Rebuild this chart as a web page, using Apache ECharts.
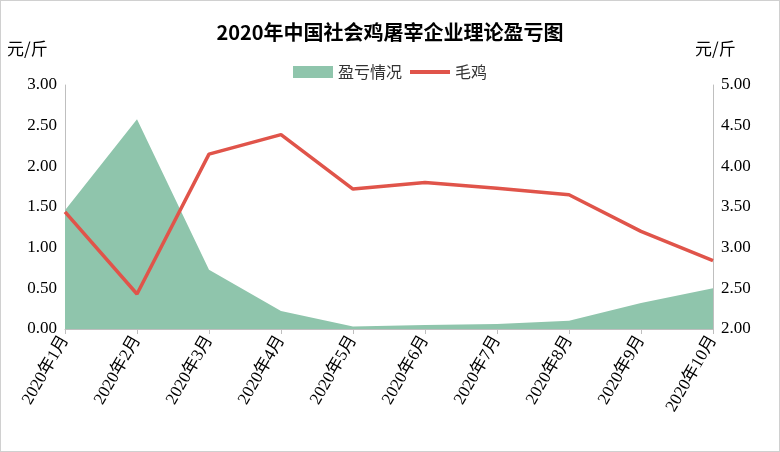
<!DOCTYPE html>
<html><head><meta charset="utf-8">
<script src="https://cdn.jsdelivr.net/npm/echarts@6/dist/echarts.min.js"></script>
<style>html,body{margin:0;padding:0;background:#fff}#c{width:780px;height:452px;box-sizing:border-box;border:1px solid #d0d0d0}</style>
</head><body><div id="c"></div>
<script>
const categories = ['2020年1月','2020年2月','2020年3月','2020年4月','2020年5月','2020年6月','2020年7月','2020年8月','2020年9月','2020年10月'];
const profit = [1.46, 2.58, 0.73, 0.22, 0.03, 0.05, 0.06, 0.10, 0.32, 0.50];
const broiler = [3.44, 2.43, 4.15, 4.39, 3.72, 3.80, 3.73, 3.65, 3.20, 2.84];
const chart = echarts.init(document.getElementById('c'));
const font = 'Liberation Serif, Noto Sans CJK SC';
chart.setOption({
  animation:false,
  title:{text:'2020年中国社会鸡屠宰企业理论盈亏图',left:'center',top:16,textStyle:{fontFamily:'Noto Sans CJK SC',fontSize:20,fontWeight:'bold',color:'#000'}},
  legend:{top:58,left:'center',itemWidth:40,itemHeight:12,textStyle:{fontSize:16,fontFamily:'Noto Sans CJK SC',color:'#333'},
    data:[{name:'盈亏情况',icon:'rect'},{name:'毛鸡',icon:'path://M0,0H40V4H0Z'}]},
  grid:{left:64,right:66,top:84,bottom:122},
  xAxis:{type:'category',data:categories,boundaryGap:false,
    axisLine:{lineStyle:{color:'#bfbfbf'}},axisTick:{show:true,lineStyle:{color:'#bfbfbf'}},
    axisLabel:{rotate:60,fontSize:17,fontFamily:font,color:'#000',interval:0}},
  yAxis:[
    {type:'value',min:0,max:3,interval:0.5,name:'元/斤',nameLocation:'end',nameGap:28,nameTextStyle:{fontSize:17,color:'#000',fontFamily:'Noto Sans CJK SC',align:'left',padding:[0,0,0,-58]},
     axisLine:{show:true,lineStyle:{color:'#bfbfbf'}},splitLine:{show:false},
     axisLabel:{formatter:v=>v.toFixed(2),fontSize:17,fontFamily:font,color:'#000'}},
    {type:'value',min:2,max:5,interval:0.5,name:'元/斤',nameLocation:'end',nameGap:28,nameTextStyle:{fontSize:17,color:'#000',fontFamily:'Noto Sans CJK SC',align:'left',padding:[0,0,0,-18]},
     axisLine:{show:true,lineStyle:{color:'#bfbfbf'}},splitLine:{show:false},
     axisLabel:{formatter:v=>v.toFixed(2),fontSize:17,fontFamily:font,color:'#000'}}
  ],
  series:[
    {name:'盈亏情况',type:'line',data:profit,symbol:'none',lineStyle:{width:0},areaStyle:{color:'#8fc5ac',opacity:1},itemStyle:{color:'#8fc5ac'}},
    {name:'毛鸡',type:'line',yAxisIndex:1,data:broiler,symbol:'none',lineStyle:{width:3.5,color:'#e0544a'},itemStyle:{color:'#e0544a'}}
  ]
});
</script></body></html>
